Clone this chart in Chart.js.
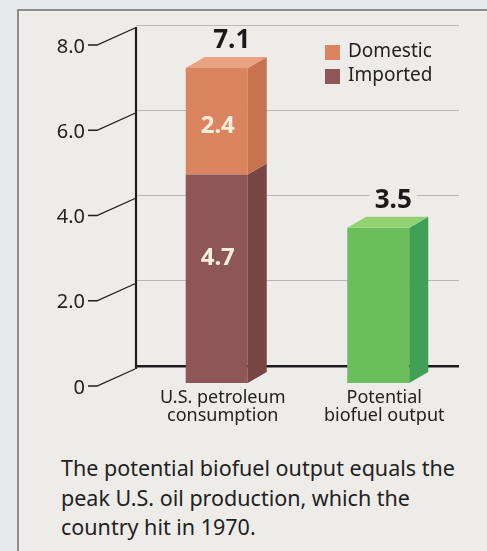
<!DOCTYPE html>
<html lang="en">
<head>
<meta charset="UTF-8">
<title>Petroleum consumption vs potential biofuel output</title>
<script src="https://cdn.jsdelivr.net/npm/chart.js"></script>
<style>
  html, body { margin: 0; padding: 0; }
  body {
    width: 487px; height: 551px; position: relative; overflow: hidden;
    background: #e7e8ea; font-family: "Noto Sans", sans-serif;
  }
  #panel {
    position: absolute; left: 17px; top: 9px; right: -10px; bottom: -10px;
    background: #edece9; border-left: 2px solid #8c8c8c; border-top: 2px solid #8c8c8c;
  }
  #chart { position: absolute; left: 0; top: 0; width: 487px; height: 440px; }
  #caption {
    position: absolute; left: 61px; top: 453px;
    font-size: 21.5px; line-height: 29.5px; color: #222;
  }
</style>
</head>
<body>
<div id="panel"></div>
<canvas id="chart" width="487" height="440"></canvas>
<div id="caption">The potential biofuel output equals the<br>peak U.S. oil production, which the<br>country hit in 1970.</div>

<script>
  // data
  const categories = [["U.S. petroleum", "consumption"], ["Potential", "biofuel output"]];
  const importedValues = [4.7, null];
  const domesticValues = [2.4, null];
  const biofuelValues = [null, 3.5];
  const totals = [7.1, 3.5];
  const yTicks = [0, 2, 4, 6, 8];

  const FONT = "'Noto Sans', sans-serif";
  const PANEL = "#edece9";
  const DEPTH = { dx: 19, dy: -11 }; // fake 3d offset of side/top faces

  function poly(ctx, pts) {
    ctx.beginPath();
    ctx.moveTo(pts[0][0], pts[0][1]);
    for (let i = 1; i < pts.length; i++) ctx.lineTo(pts[i][0], pts[i][1]);
    ctx.closePath();
    ctx.fill();
  }

  const extras = {
    id: "extras",
    afterDatasetsDraw(chart) {
      const ctx = chart.ctx;
      const yg = chart.scales.yg, y = chart.scales.y, x = chart.scales.x;
      ctx.save();

      // side + top faces
      chart.data.datasets.forEach((ds, di) => {
        chart.getDatasetMeta(di).data.forEach((bar, i) => {
          if (ds.data[i] == null) return;
          const p = bar.getProps(["x", "y", "base", "width"], true);
          const l = p.x - p.width / 2, r = p.x + p.width / 2;
          ctx.fillStyle = ds.sideColor;
          poly(ctx, [[r, p.y], [r + DEPTH.dx, p.y + DEPTH.dy], [r + DEPTH.dx, p.base + DEPTH.dy], [r, p.base]]);
          if (ds.topColor) {
            ctx.fillStyle = ds.topColor;
            poly(ctx, [[l, p.y], [l + DEPTH.dx, p.y + DEPTH.dy], [r + DEPTH.dx, p.y + DEPTH.dy], [r, p.y]]);
          }
          if (ds.inner) {
            ctx.font = "bold 24px " + FONT;
            ctx.fillStyle = "#f8eedc";
            ctx.textAlign = "center";
            ctx.textBaseline = "middle";
            ctx.fillText(ds.data[i].toFixed(1), p.x + 1, p.y + ds.inner * (p.base - p.y));
          }
        });
      });

      // totals above the bars, knocked out of the grid
      ctx.font = "bold 26px " + FONT;
      ctx.textAlign = "center";
      ctx.textBaseline = "middle";
      totals.forEach((t, i) => {
        const tx = x.getPixelForValue(i) + 15;
        const ty = y.getPixelForValue(t) - 27;
        const w = ctx.measureText(t.toFixed(1)).width + 10;
        ctx.fillStyle = PANEL;
        ctx.fillRect(tx - w / 2, ty - 15, w, 30);
        ctx.fillStyle = "#1a1a1a";
        ctx.fillText(t.toFixed(1), tx, ty);
      });

      // vertical axis and slanted tick connectors
      ctx.strokeStyle = "#1e1e1e";
      ctx.lineWidth = 2.2;
      ctx.beginPath();
      ctx.moveTo(136, yg.getPixelForValue(8) + 2);
      ctx.lineTo(136, yg.getPixelForValue(0) + 3);
      ctx.stroke();
      ctx.lineWidth = 1.3;
      yTicks.forEach(v => {
        const gy = yg.getPixelForValue(v);
        const ly = gy + 22;
        ctx.beginPath();
        ctx.moveTo(88, ly - 2);
        ctx.lineTo(97, ly - 2);
        ctx.lineTo(135, gy + 3);
        ctx.stroke();
      });

      // legend (stack order, top first)
      ctx.font = "19px " + FONT;
      ctx.textAlign = "left";
      ctx.textBaseline = "middle";
      [1, 0].forEach((di, k) => {
        const ds = chart.data.datasets[di];
        ctx.fillStyle = ds.backgroundColor;
        ctx.fillRect(325, 45 + k * 24, 15, 15);
        ctx.fillStyle = "#222";
        ctx.fillText(ds.label, 348, 52 + k * 24);
      });

      ctx.restore();
    }
  };

  new Chart(document.getElementById("chart"), {
    type: "bar",
    data: {
      labels: categories,
      datasets: [
        { label: "Imported", data: importedValues, backgroundColor: "#8e5656", sideColor: "#7a4545", inner: 0.4 },
        { label: "Domestic", data: domesticValues, backgroundColor: "#da8560", sideColor: "#c97250", topColor: "#e9a282", inner: 0.55 },
        { label: "Potential biofuel output", data: biofuelValues, backgroundColor: "#6cbd5c", sideColor: "#41a055", topColor: "#92d272" }
      ]
    },
    options: {
      responsive: false,
      animation: false,
      events: [],
      layout: { padding: { top: 25, right: 28, bottom: 0, left: 0 } },
      datasets: { bar: { barPercentage: 0.384, categoryPercentage: 1 } },
      plugins: { legend: { display: false }, tooltip: { enabled: false } },
      scales: {
        x: {
          stacked: true,
          grid: { display: false },
          border: { display: false },
          afterFit: s => { s.height = 57; s.paddingLeft = 0; s.paddingRight = 0; },
          ticks: { padding: -3, labelOffset: 6, color: "#222", font: { family: FONT, size: 18, lineHeight: 1.05 } }
        },
        // front plane of the bars
        y: { stacked: true, display: false, min: 0, max: 8.068 },
        // back plane: grid lines and tick labels
        yg: {
          position: "left",
          bounds: "data",
          min: -0.399,
          max: 8.0,
          afterBuildTicks: s => { s.ticks = yTicks.map(v => ({ value: v })); },
          afterFit: s => { s.width = 136; s.paddingTop = 0; s.paddingBottom = 0; },
          border: { display: false },
          grid: {
            drawTicks: false,
            color: c => (c.tick && c.tick.value === 0 ? "#1c1c1c" : "#b8b8b8"),
            lineWidth: c => (c.tick && c.tick.value === 0 ? 2.5 : 1)
          },
          ticks: {
            padding: 51,
            labelOffset: 22,
            color: "#222",
            font: { family: FONT, size: 20 },
            callback: v => (v === 0 ? "0" : v.toFixed(1))
          }
        }
      }
    },
    plugins: [extras]
  });
</script>
</body>
</html>
